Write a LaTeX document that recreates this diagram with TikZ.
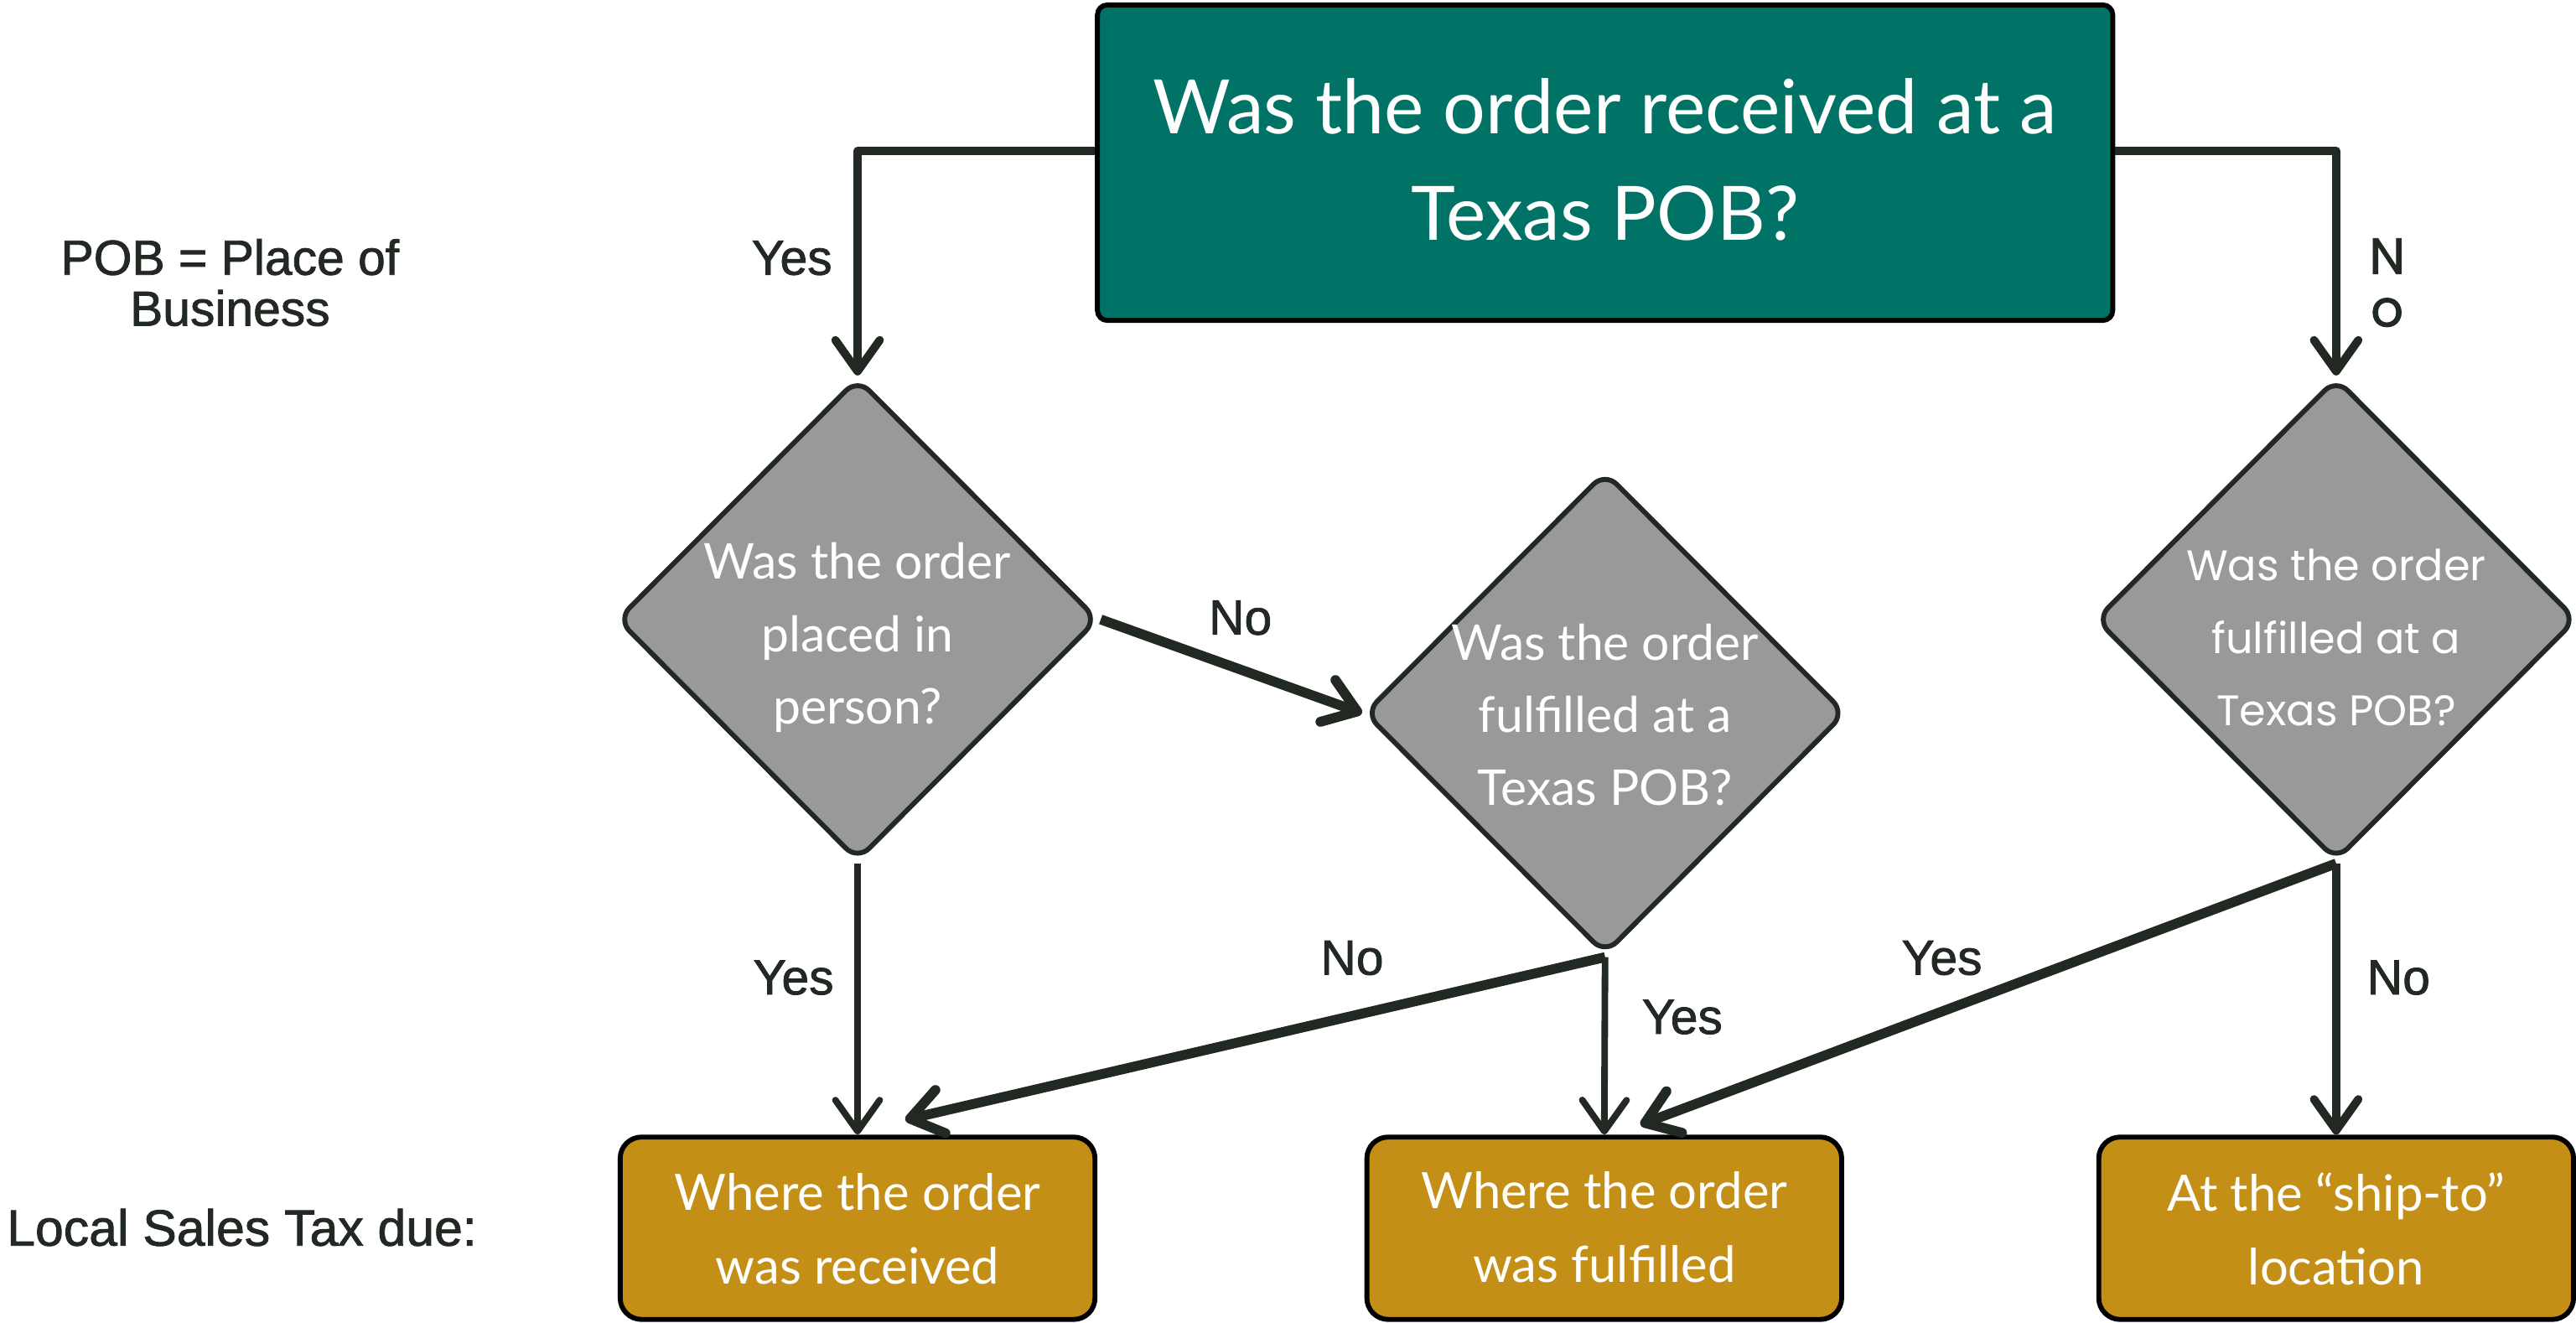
\documentclass[tikz,border=0pt]{standalone}
\usepackage{fontspec}
\setmainfont{Lato}
\newfontfamily\arial{Liberation Sans}[FakeBold=1.4]
\newfontfamily\pop{Poppins}
\newfontfamily\popb{Poppins}[FakeBold=1.6]
\usetikzlibrary{shapes.geometric,arrows.meta}
\definecolor{teal1}{HTML}{017366}
\definecolor{gold1}{HTML}{C48F16}
\definecolor{gray1}{HTML}{99999B}
\definecolor{ink}{HTML}{222822}
\tikzset{
  topbox/.style={draw=black,line width=3pt,fill=teal1,rounded corners=6pt,minimum width=618pt,minimum height=192pt,inner sep=0pt},
  resbox/.style={draw=black,line width=3pt,fill=gold1,rounded corners=13pt,minimum width=289pt,minimum height=111pt,inner sep=0pt},
  dia/.style={draw=ink,line width=3pt,fill=gray1,diamond,rounded corners=10pt,minimum width=293pt,minimum height=294pt,inner sep=0pt},
  dtext/.style={text=white,align=center,font=\fontsize{30}{44}\selectfont},
  rtext/.style={text=white,align=center,font=\fontsize{30.5}{45}\selectfont},
  lbl/.style={text=ink,font=\arial\fontsize{30}{31}\selectfont,inner sep=0pt},
  arr/.style={draw=ink,line width=#1,line join=round,-{Straight Barb[length=19pt,width=27pt,line cap=round,line join=round]}},
  arr/.default=5pt
}
\begin{document}
\begin{tikzpicture}[x=1pt,y=-1pt]
\useasboundingbox (0,0) rectangle (1568,805);
% nodes
\node[topbox] (top) at (977,99) {};
\node[text=white,align=center,font=\fontsize{45.7}{65}\selectfont] (toptext) at (977,97) {Was the order received at a\\Texas POB?};
\node[dia] (d1) at (522,377) {};
\node[dtext] (d1t) at (522,388) {Was the order\\placed in\\person?};
\node[dia] (d2) at (977,434) {};
\node[dtext] (d2t) at (977,435) {Was the order\\fulfilled at a\\Texas POB?};
\node[dia] (d3) at (1422,377) {};
\node[text=white,align=center,font=\pop\fontsize{26}{44}\selectfont] (d3t) at (1422,388) {Was the order\\fulfilled at a\\Texas POB?};
\node[resbox] (b1) at (522,747.5) {};
\node[rtext] (b1t) at (522,748) {Where the order\\was received};
\node[resbox] (b2) at (976.5,747.5) {};
\node[rtext] (b2t) at (976.5,747) {Where the order\\was fulfilled};
\node[resbox] (b3) at (1422,747.5) {};
\node[rtext] (b3t) at (1422,748) {At the “ship-to”\\location};
\node[lbl,align=center] (pob) at (140,172) {POB = Place of\\Business};
\node[lbl,anchor=west,font=\arial\fontsize{31}{31}\selectfont] (lst) at (4,747) {Local Sales Tax due:};
% connectors
\draw[arr] ([yshift=7pt]top.west) -| (d1.north);
\draw[arr] ([yshift=7pt]top.east) -| (d3.north);
\draw[arr=6pt] (d1.east) -- (d2.west);
\draw[arr=4pt] (d1.south) -- (b1.north);
\draw[arr=6pt] (d2.south) -- ([xshift=29pt,yshift=9pt]b1.north);
\draw[arr=4pt] (d2.south) -- (b2.north);
\draw[arr=6pt] (d3.south) -- ([xshift=22pt,yshift=6pt]b2.north);
\draw[arr] (d3.south) -- (b3.north);
% labels
\node[lbl] (l1) at (482,157) {Yes};
\node[text=ink,align=center,font=\popb\fontsize{31}{32}\selectfont,inner sep=0pt] (l2) at (1453,172) {N\\o};
\node[lbl] (l3) at (755,376) {No};
\node[lbl] (l4) at (483,595) {Yes};
\node[lbl] (l5) at (823,583) {No};
\node[lbl] (l6) at (1024,619) {Yes};
\node[lbl] (l7) at (1182,583) {Yes};
\node[lbl] (l8) at (1460,595) {No};
\end{tikzpicture}
\end{document}
